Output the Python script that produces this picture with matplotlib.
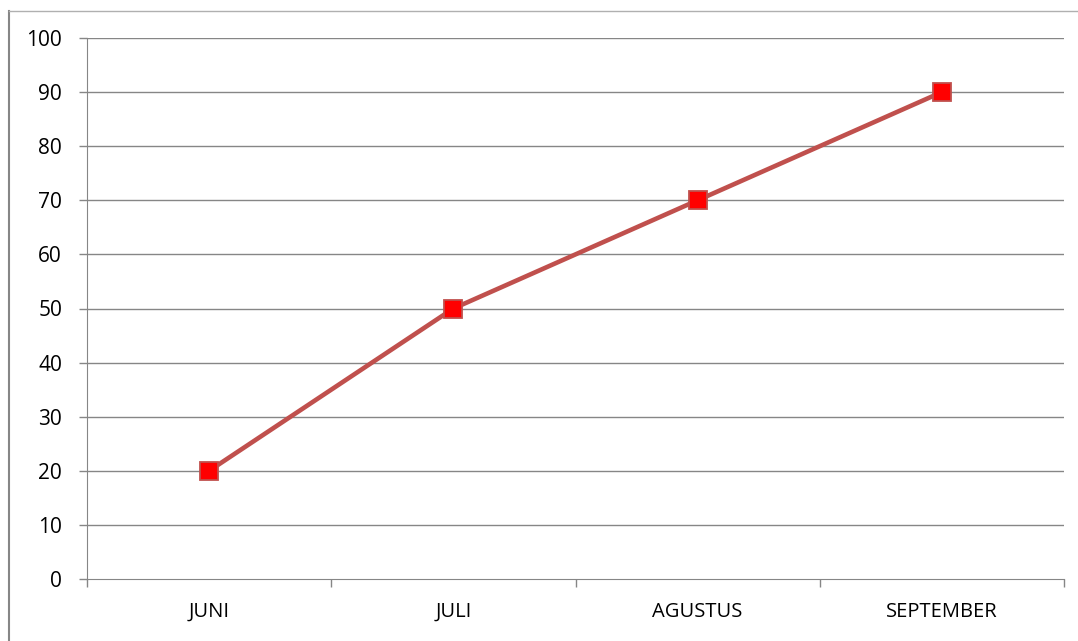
import numpy as np
import matplotlib.pyplot as plt
from matplotlib.lines import Line2D

months = ["JUNI", "JULI", "AGUSTUS", "SEPTEMBER"]
values = [20, 50, 70, 90]
yticks = [0, 10, 20, 30, 40, 50, 60, 70, 80, 90, 100]

plt.rcParams['font.family'] = ['Open Sans', 'DejaVu Sans']

fig = plt.figure(figsize=(10.78, 6.41), dpi=100)
ax = fig.add_axes([87/1078, 62/641, 977/1078, 541/641])

grid_col = "#868686"
x = np.arange(len(months))
ax.plot(x, values, color="#C0504D", lw=3.3, marker="s", markersize=12.5,
        markerfacecolor="#FF0000", markeredgecolor="#C0504D", markeredgewidth=1.3,
        zorder=3)

ax.set_xlim(-0.5, len(months) - 0.5)
ax.set_ylim(0, 100)
ax.set_yticks(yticks)
ax.set_yticklabels([str(v) for v in yticks], fontsize=15)
for v in yticks[1:]:
    ax.axhline(v, color=grid_col, lw=1, zorder=1)

ax.set_xticks(x)
ax.set_xticklabels(months, fontsize=14.5)
ax.set_xticks(np.arange(len(months) + 1) - 0.5, minor=True)
ax.tick_params(axis="x", which="major", length=0, pad=16.5)
ax.tick_params(axis="x", which="minor", length=6, color=grid_col, width=1)
ax.tick_params(axis="y", length=6, color=grid_col, width=1, pad=12)

for s in ["top", "right"]:
    ax.spines[s].set_visible(False)
ax.spines["left"].set_color(grid_col)
ax.spines["bottom"].set_color(grid_col)

# outer chart border (only left and top visible in the crop)
fig.add_artist(Line2D([8.5/1078, 8.5/1078], [0, 1 - 11/641], transform=fig.transFigure,
                      color="#868686", lw=1.5))
fig.add_artist(Line2D([8.5/1078, 1], [1 - 11/641, 1 - 11/641], transform=fig.transFigure,
                      color="#B0B0B0", lw=1))

fig.savefig("out.png", dpi=100)
